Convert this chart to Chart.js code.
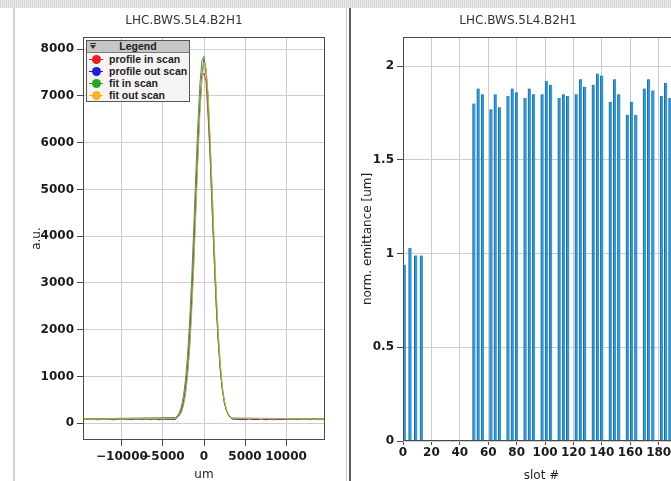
<!DOCTYPE html>
<html>
<head>
<meta charset="utf-8">
<script src="https://cdn.jsdelivr.net/npm/chart.js@4/dist/chart.umd.min.js"></script>
<style>
  html, body { margin: 0; padding: 0; }
  body { width: 671px; height: 481px; overflow: hidden; background: #fff; position: relative; font-family: "DejaVu Sans", sans-serif; }
  .strip { position: absolute; left: 0; top: 0; width: 671px; height: 8px;
           background: repeating-linear-gradient(90deg, #d6d6d6 0 1px, #ebebeb 1px 2px); }
  .edge { position: absolute; left: 13px; top: 8px; width: 2px; height: 473px; background: #d2d2d2; }
  .sep1 { position: absolute; left: 346px; top: 8px; width: 1px; height: 473px; background: #c4c4c4; }
  .sep2 { position: absolute; left: 349px; top: 8px; width: 2px; height: 473px; background: #5a5a5a; }
  .box { position: absolute; top: 8px; height: 480px; }
  .ttl { position: absolute; top: 13px; width: 240px; margin-left: -120px; text-align: center;
         font: 12px "DejaVu Sans", sans-serif; color: #333; }
  #legend { position: absolute; left: 86px; top: 40px; width: 102px; height: 60px; border: 1px solid #555;
            background: #f5f3f3; font: bold 10.5px "Liberation Sans", sans-serif; color: #222; }
  #legend .hdr { height: 11px; line-height: 11px; background: #c6c6c6; border-bottom: 1px solid #7a7a7a;
                 text-align: center; position: relative; }
  #legend .ico { position: absolute; left: 3px; top: 2px; width: 6px; height: 1px; background: #333; }
  #legend .ico::after { content: ""; position: absolute; left: 0; top: 2px; border-left: 3px solid transparent;
                        border-right: 3px solid transparent; border-top: 4px solid #333; }
  #legend .row { height: 12px; line-height: 12px; position: relative; padding-left: 22px; white-space: nowrap; }
  #legend .mk { position: absolute; left: 2px; top: 6px; width: 14px; height: 1px; background: var(--c); }
  #legend .mk::after { content: ""; position: absolute; left: 3px; top: -4px; width: 9px; height: 9px;
                       border-radius: 50%; background: var(--c); }
</style>
</head>
<body>
<div class="strip"></div>
<div class="edge"></div>
<div class="sep1"></div>
<div class="sep2"></div>

<div class="box" style="left:15px;width:332px;"><canvas id="profiles" width="332" height="480"></canvas></div>
<div class="box" style="left:351px;width:345px;"><canvas id="emittance" width="345" height="480"></canvas></div>

<div class="ttl" style="left:184px;">LHC.BWS.5L4.B2H1</div>
<div class="ttl" style="left:518px;">LHC.BWS.5L4.B2H1</div>

<div id="legend">
  <div class="hdr"><span class="ico"></span>Legend</div>
  <div class="row"><span class="mk" style="--c:#e42121"></span>profile in scan</div>
  <div class="row"><span class="mk" style="--c:#1f1fd6"></span>profile out scan</div>
  <div class="row"><span class="mk" style="--c:#27a327"></span>fit in scan</div>
  <div class="row"><span class="mk" style="--c:#f3b622"></span>fit out scan</div>
</div>

<script>
// ---- wire scanner profiles (position in um, amplitude in a.u.) ----
const profileX = [
  -14750, -14000, -13500, -13000, -12500, -12000, -11500, -11000, -10500, -10000, -9500, -9000,
  -8500, -8000, -7500, -7000, -6500, -6000, -5500, -5000, -4500, -4000, -3500,
  -3250, -3000, -2750, -2500, -2250, -2000, -1750, -1500, -1250, -1000, -750, -500, -250,
  0, 250, 500, 750, 1000, 1250, 1500, 1750, 2000, 2250, 2500, 2750, 3000, 3250,
  3500, 4000, 4500, 5000, 5500, 6000, 6500, 7000, 7500, 8000, 8500, 9000,
  9500, 10000, 10500, 11000, 11500, 12000, 12500, 13000, 13500, 14000, 14750
];
const profileIn = [
  78, 92, 85, 70, 95, 88, 76, 90, 83, 97, 72, 86, 91, 79, 84, 95, 74, 88, 81, 93, 77, 89, 96,
  125, 180, 310, 460, 800, 1210, 1905, 2690, 3760, 4790, 5930, 6740, 7410,
  7490, 7300, 6550, 5690, 4520, 3500, 2470, 1730, 1090, 710, 410, 275, 160, 128,
  94, 80, 87, 73, 91, 85, 78, 96, 82, 88, 71, 93, 84, 79, 90, 86, 75, 92, 81, 87, 95, 76, 89
];
const profileOut = [
  88, 76, 93, 82, 79, 95, 84, 71, 90, 86, 98, 74, 83, 92, 77, 89, 80, 94, 73, 87, 91, 82, 78,
  115, 172, 240, 420, 655, 1100, 1670, 2530, 3490, 4680, 5770, 6820, 7470,
  7790, 7540, 6960, 5940, 4860, 3670, 2680, 1790, 1180, 710, 455, 262, 181, 121,
  85, 92, 74, 88, 96, 79, 83, 90, 72, 87, 93, 81, 76, 95, 84, 89, 78, 91, 86, 73, 94, 80, 88
];
const fitX = [
  -14750, -3500, -3250, -3000, -2750, -2500, -2250, -2000, -1750, -1500, -1250, -1000, -750, -500, -250,
  0, 250, 500, 750, 1000, 1250, 1500, 1750, 2000, 2250, 2500, 2750, 3000, 3250, 3500, 14750
];
const fitIn = [
  90, 121, 158, 230, 360, 582, 936, 1460, 2180, 3098, 4171, 5310, 6386, 7249, 7765,
  7846, 7481, 6729, 5713, 4580, 3470, 2489, 1696, 1103, 692, 428, 268, 179, 132, 109, 90
];
const fitOut = [
  85, 99, 117, 156, 233, 373, 616, 1002, 1572, 2351, 3329, 4447, 5595, 6625, 7376,
  7721, 7598, 7029, 6114, 5003, 3853, 2798, 1920, 1250, 780, 474, 290, 187, 132, 106, 85
];
const positionTicks = [-10000, -5000, 0, 5000, 10000];
const amplitudeTicks = [0, 1000, 2000, 3000, 4000, 5000, 6000, 7000, 8000];

// ---- normalised emittance per bunch slot ----
const slots = [
  1, 5, 9, 13,
  50, 53, 56, 62, 65, 68, 74, 77, 80, 86, 89, 92, 98, 101, 104, 110, 113, 116,
  122, 125, 128, 134, 137, 140, 146, 149, 152, 158, 161, 164, 170, 173, 176, 182, 185, 188
];
const emittance = [
  0.94, 1.03, 0.99, 0.99,
  1.80, 1.88, 1.85, 1.77, 1.85, 1.78, 1.84, 1.88, 1.86, 1.83, 1.88, 1.85, 1.85, 1.92, 1.90,
  1.83, 1.85, 1.84, 1.85, 1.93, 1.89, 1.90, 1.96, 1.95, 1.81, 1.93, 1.85, 1.74, 1.81, 1.74,
  1.88, 1.93, 1.87, 1.84, 1.91, 1.83
];
const slotTicks = [0, 20, 40, 60, 80, 100, 120, 140, 160, 180];
const emittanceTicks = [0, 0.5, 1, 1.5, 2];

const pts = (xs, ys) => xs.map((x, i) => ({ x: x, y: ys[i] }));
const fixedTicks = values => scale => { scale.ticks = values.map(v => ({ value: v })); };
// numbers printed plainly, negative values with a true minus sign
const plain = v => (v < 0 ? "\u2212" + String(-v) : String(v));

const tickFont = { family: "DejaVu Sans", size: 12, weight: "bold" };
const titleFont = { family: "DejaVu Sans", size: 12 };
const gridColor = "#cdcdcd";
const axisColor = "#4a4a4a";

// dark frame around the plotting area
const framePlugin = {
  id: "frame",
  afterDraw(chart) {
    const a = chart.chartArea, ctx = chart.ctx;
    ctx.save();
    ctx.strokeStyle = axisColor;
    ctx.lineWidth = 1;
    const l = Math.round(a.left) + 0.5, t = Math.round(a.top) + 0.5;
    const r = Math.round(a.right) - 0.5, b = Math.round(a.bottom) - 0.5;
    ctx.strokeRect(l, t, r - l, b - t);
    ctx.restore();
  }
};

new Chart(document.getElementById("profiles"), {
  type: "line",
  data: {
    datasets: [
      { label: "profile in scan", data: pts(profileX, profileIn), borderColor: "#d23a2c", order: 3 },
      { label: "profile out scan", data: pts(profileX, profileOut), borderColor: "#3535b8", order: 2 },
      { label: "fit in scan", data: pts(fitX, fitIn), borderColor: "#4a9a38", order: 1 },
      { label: "fit out scan", data: pts(fitX, fitOut), borderColor: "#c9b23c", order: 0 }
    ]
  },
  options: {
    responsive: false,
    animation: false,
    datasets: { line: { borderWidth: 1, pointRadius: 0, tension: 0, fill: false } },
    layout: { padding: { left: 11, top: 29, right: 22, bottom: 6 } },
    plugins: { legend: { display: false }, tooltip: { enabled: false } },
    scales: {
      x: {
        type: "linear", min: -14750, max: 14750,
        afterBuildTicks: fixedTicks(positionTicks),
        afterFit: s => { s.height = 42; },
        border: { display: false },
        grid: { color: gridColor, tickColor: axisColor, tickLength: 6 },
        ticks: { autoSkip: false, maxRotation: 0, padding: 4, color: "#1a1a1a", font: tickFont, callback: plain },
        title: { display: true, text: "um", color: "#222", font: titleFont, padding: { top: 0, bottom: 0 } }
      },
      y: {
        min: -360, max: 8260,
        afterBuildTicks: fixedTicks(amplitudeTicks),
        afterFit: s => { s.width = 57; },
        border: { display: false },
        grid: { color: gridColor, tickColor: axisColor, tickLength: 6 },
        ticks: { autoSkip: false, padding: 3, color: "#1a1a1a", font: tickFont, callback: plain },
        title: { display: true, text: "a.u.", color: "#222", font: titleFont, padding: { top: 4, bottom: 0 } }
      }
    }
  },
  plugins: [framePlugin]
});

new Chart(document.getElementById("emittance"), {
  type: "bar",
  data: {
    datasets: [{
      label: "norm. emittance",
      data: pts(slots, emittance),
      backgroundColor: "#3597d1",
      borderColor: "#1f6aa0",
      borderWidth: { left: 1, right: 0, top: 0, bottom: 0 },
      barThickness: 3
    }]
  },
  options: {
    responsive: false,
    animation: false,
    layout: { padding: { left: 6, top: 29, right: 16, bottom: 5 } },
    plugins: { legend: { display: false }, tooltip: { enabled: false } },
    scales: {
      x: {
        type: "linear", min: 0, max: 195, offset: false,
        afterBuildTicks: fixedTicks(slotTicks),
        afterFit: s => { s.height = 42; },
        border: { display: false },
        grid: { offset: false, color: gridColor, tickColor: axisColor, tickLength: 4 },
        ticks: { autoSkip: false, maxRotation: 0, padding: 1, color: "#1a1a1a", font: tickFont, callback: plain },
        title: { display: true, text: "slot #", color: "#222", font: titleFont, padding: { top: 0, bottom: 0 } }
      },
      y: {
        min: 0, max: 2.155,
        afterBuildTicks: fixedTicks(emittanceTicks),
        afterFit: s => { s.width = 46; },
        border: { display: false },
        grid: { color: gridColor, tickColor: axisColor, tickLength: 6 },
        ticks: { autoSkip: false, padding: 3, color: "#1a1a1a", font: tickFont, callback: plain },
        title: { display: true, text: "norm. emittance [um]", color: "#222", font: titleFont,
                 padding: { top: 4, bottom: 0 } }
      }
    }
  },
  plugins: [framePlugin]
});
</script>
</body>
</html>
